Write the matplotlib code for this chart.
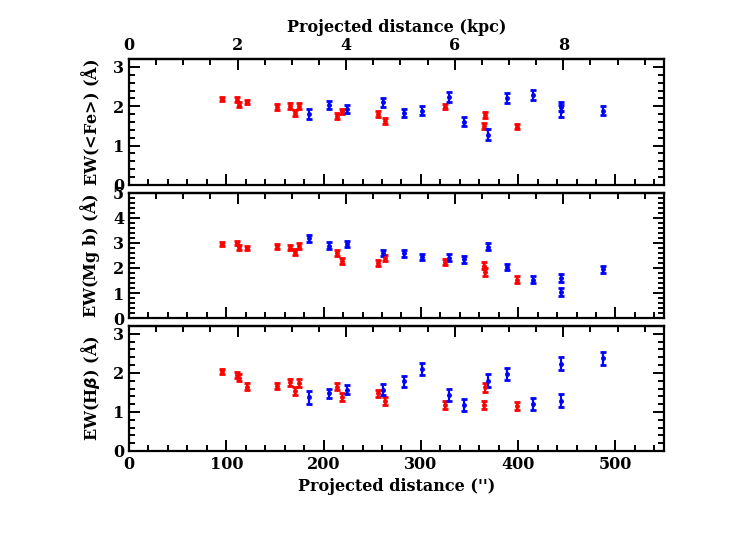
import numpy as np
import matplotlib
matplotlib.use("Agg")
import matplotlib.pyplot as plt
from matplotlib.ticker import MultipleLocator

# projected distances (arcsec)
x_red = [96, 111, 113, 121, 152, 165.5, 171, 175, 213.5, 218.6, 256, 263, 325, 364.6, 366.3, 399]
x_blue = [185, 206, 224, 261, 283, 301, 329, 344, 369, 389, 415, 443.8, 444.5, 487]

# EW(<Fe>)
fe_red = [2.19, 2.17, 2.04, 2.11, 1.98, 2.01, 1.82, 2.01, 1.75, 1.87, 1.80, 1.63, 1.99, 1.50, 1.78, 1.48]
fe_red_err = [0.05, 0.06, 0.07, 0.05, 0.07, 0.07, 0.08, 0.07, 0.07, 0.07, 0.07, 0.08, 0.07, 0.07, 0.08, 0.07]
fe_blue = [1.80, 2.04, 1.94, 2.10, 1.82, 1.89, 2.23, 1.61, 1.28, 2.21, 2.29, 1.87, 1.99, 1.89]
fe_blue_err = [0.13, 0.10, 0.10, 0.11, 0.10, 0.11, 0.12, 0.11, 0.13, 0.12, 0.12, 0.15, 0.12, 0.11]

# EW(Mg b)
mg_red = [2.94, 2.98, 2.82, 2.81, 2.87, 2.81, 2.65, 2.89, 2.58, 2.28, 2.18, 2.40, 2.24, 2.08, 1.84, 1.54]
mg_red_err = [0.08, 0.08, 0.10, 0.08, 0.10, 0.10, 0.12, 0.12, 0.12, 0.12, 0.12, 0.12, 0.12, 0.14, 0.15, 0.12]
mg_blue = [3.18, 2.89, 2.96, 2.60, 2.58, 2.44, 2.40, 2.35, 2.85, 2.04, 1.54, 1.60, 1.06, 1.94]
mg_blue_err = [0.15, 0.13, 0.12, 0.13, 0.13, 0.13, 0.14, 0.14, 0.14, 0.13, 0.13, 0.15, 0.16, 0.15]

# EW(Hbeta)
hb_red = [2.04, 1.94, 1.87, 1.65, 1.66, 1.76, 1.54, 1.74, 1.65, 1.39, 1.48, 1.29, 1.18, 1.18, 1.63, 1.15]
hb_red_err = [0.06, 0.08, 0.09, 0.08, 0.08, 0.09, 0.10, 0.10, 0.10, 0.10, 0.09, 0.10, 0.10, 0.10, 0.12, 0.10]
hb_blue = [1.37, 1.48, 1.57, 1.57, 1.78, 2.10, 1.43, 1.18, 1.80, 1.97, 1.21, 1.29, 2.24, 2.37]
hb_blue_err = [0.16, 0.12, 0.12, 0.14, 0.13, 0.16, 0.15, 0.15, 0.16, 0.15, 0.15, 0.17, 0.17, 0.17]

ylabels = [r"EW(<Fe>) ($\mathbf{\AA}$)", r"EW(Mg b) ($\mathbf{\AA}$)", r"EW(H$\boldsymbol{\beta}$) ($\mathbf{\AA}$)"]
ylims = [3.2, 5.0, 3.2]
yminor = [0.2, 0.2, 0.2]

ARCSEC_PER_KPC = 55.8

plt.rcParams['font.family'] = ['DejaVu Serif']
plt.rcParams['font.weight'] = 'bold'
plt.rcParams['axes.labelweight'] = 'bold'
plt.rcParams['mathtext.fontset'] = 'custom'
plt.rcParams['mathtext.rm'] = 'DejaVu Serif:bold'
plt.rcParams['mathtext.bf'] = 'DejaVu Serif:bold'
plt.rcParams['mathtext.it'] = 'DejaVu Serif:bold:italic'
plt.rcParams['font.size'] = 11.5

fig = plt.figure(figsize=(7.29, 5.45), dpi=100)
left, right = 0.177, 0.911
bounds = [(0.6606, 0.8917), (0.4165, 0.6459), (0.1725, 0.4018)]

data = [
    (fe_red, fe_red_err, fe_blue, fe_blue_err),
    (mg_red, mg_red_err, mg_blue, mg_blue_err),
    (hb_red, hb_red_err, hb_blue, hb_blue_err),
]

for i, (b, t) in enumerate(bounds):
    ax = fig.add_axes([left, b, right - left, t - b])
    r, re, bl, ble = data[i]
    ax.errorbar(x_red, r, yerr=re, fmt='o', color='#ff0000', ms=2.5,
                elinewidth=1.6, capsize=2.5, capthick=2.0)
    ax.errorbar(x_blue, bl, yerr=ble, fmt='o', color='#0000ff', ms=2.5,
                elinewidth=1.6, capsize=2.5, capthick=2.0)
    ax.set_xlim(0, 550)
    ax.set_ylim(0, ylims[i])
    ax.xaxis.set_major_locator(MultipleLocator(100))
    ax.xaxis.set_minor_locator(MultipleLocator(20))
    ax.yaxis.set_major_locator(MultipleLocator(1))
    ax.yaxis.set_minor_locator(MultipleLocator(yminor[i]))
    ax.tick_params(which='both', direction='in', right=True, top=False, width=1.4)
    ax.tick_params(which='major', length=8)
    ax.tick_params(which='minor', length=4)
    for s in ax.spines.values():
        s.set_linewidth(1.6)
    ax.set_ylabel(ylabels[i], labelpad=8)

    sec = ax.secondary_xaxis('top', functions=(lambda v: v / ARCSEC_PER_KPC,
                                                lambda v: v * ARCSEC_PER_KPC))
    sec.xaxis.set_major_locator(MultipleLocator(2))
    sec.xaxis.set_minor_locator(MultipleLocator(0.5))
    sec.tick_params(which='both', direction='in', width=1.4)
    sec.tick_params(which='major', length=8)
    sec.tick_params(which='minor', length=4)
    sec.spines['top'].set_linewidth(1.6)
    if i == 0:
        sec.set_xlabel("Projected distance (kpc)")
    else:
        sec.tick_params(labeltop=False)
    if i < 2:
        ax.tick_params(labelbottom=False)
    else:
        ax.set_xlabel("Projected distance ('')")

fig.savefig("out.png", dpi=100)
